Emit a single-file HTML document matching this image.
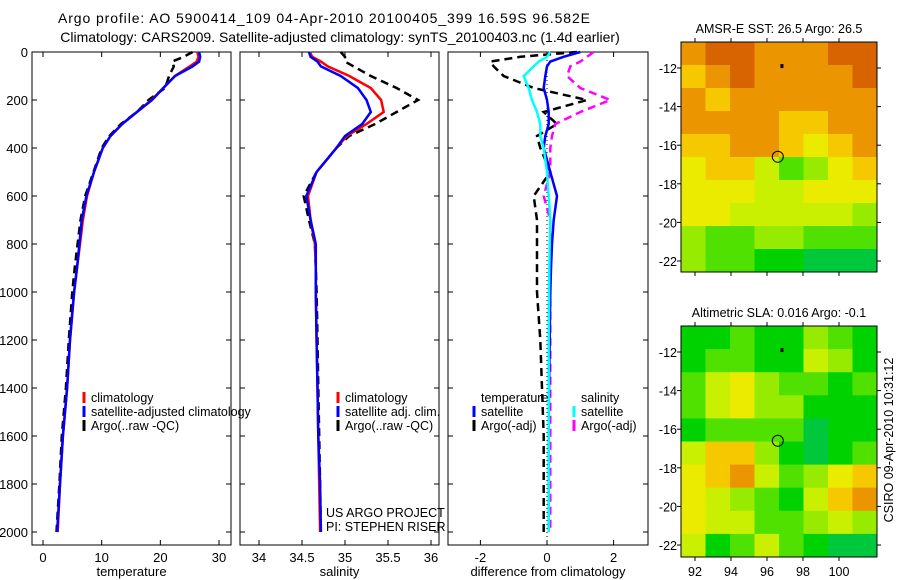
<!DOCTYPE html>
<html><head><meta charset="utf-8"><style>
body{margin:0;background:#fff}
svg{display:block;font-family:"Liberation Sans",sans-serif}
</style></head><body>
<svg id="c" width="900" height="580" xmlns="http://www.w3.org/2000/svg">
<text x="58" y="23" font-size="14" textLength="532" lengthAdjust="spacing">Argo profile: AO 5900414_109 04-Apr-2010 20100405_399 16.59S 96.582E</text>
<text x="340" y="42" font-size="14" text-anchor="middle">Climatology: CARS2009. Satellite-adjusted climatology: synTS_20100403.nc (1.4d earlier)</text>
<g id="g"></g>
</svg>
<script>
const depths=[0,20,40,60,100,150,200,250,300,350,400,500,600,700,800,900,1000,1200,1400,1600,1800,2000];
const tempClim=[26.3,26.5,26.2,25,22.5,20.5,18.5,16,13.5,11.5,10.2,8.7,7.5,6.8,6.3,5.8,5.3,4.6,4.1,3.4,2.9,2.5];
const tempSat=[26.6,26.8,26.6,25.5,22.5,20.5,18.6,16,13.5,11.5,10.2,8.7,7.4,6.6,6.2,5.8,5.3,4.6,4.1,3.4,2.9,2.4];
const tempArgo=[25.5,24,22,22.3,21.5,20.8,18,16,13.3,11.3,10,8.6,7.2,6.4,5.9,5.4,5.0,4.4,3.9,3.2,2.8,2.3];
const salClim=[34.59,34.62,34.72,34.8,35.05,35.3,35.42,35.45,35.25,35.02,34.9,34.67,34.57,34.6,34.65,34.66,34.66,34.67,34.68,34.69,34.7,34.71];
const salSat=[34.58,34.6,34.68,34.72,34.95,35.15,35.25,35.3,35.2,35.0,34.9,34.67,34.55,34.6,34.66,34.66,34.66,34.67,34.68,34.69,34.71,34.72];
const salArgo=[34.95,35.0,35.0,35.1,35.3,35.6,35.85,35.6,35.35,35.05,34.9,34.67,34.52,34.58,34.65,34.66,34.67,34.68,34.69,34.7,34.71,34.72];
const dTempSat=[1.0,0.5,0.1,0,-0.05,-0.1,0,0.05,0.05,-0.05,-0.1,0.1,0.3,0.2,0.15,0.12,0.1,0.08,0.06,0.05,0.05,0.05];
const dTempArgo=[0.9,-0.8,-1.7,-1.6,-1.3,-0.4,1.2,-0.1,0.3,-0.3,-0.2,0.1,-0.4,-0.3,-0.3,-0.3,-0.3,-0.2,-0.15,-0.1,-0.1,-0.1];
const dSalSat=[0.1,0,-0.25,-0.4,-0.7,-0.55,-0.45,-0.3,-0.2,-0.2,-0.1,0,0.05,0.1,0.08,0.07,0.06,0.05,0.05,0.05,0.05,0.05];
const dSalArgo=[1.4,1.2,1.0,0.7,0.6,1.0,1.9,1.0,0.25,0.15,0.1,0.1,-0.1,0.1,0.1,0.1,0.1,0.1,0.1,0.1,0.1,0.1];
const depthTicks=[0,200,400,600,800,1000,1200,1400,1600,1800,2000];
const tempTicks=[0,10,20,30];
const salTicks=[34,34.5,35,35.5,36];
const salTickLabels=["34","34.5","35","35.5","36"];
const diffTicks=[-2,0,2];
const latTicks=[12,14,16,18,20,22];
const lonTicks=[92,94,96,98,100];
const sstGrid=[
[8,9,9,8,8,8,9,9],[7,8,9,8,8,8,8,9],[8,7,8,8,8,8,8,8],[8,8,8,8,7,7,8,8],[7,7,8,8,7,6,7,8],
[6,7,7,5,3,4,6,7],[6,6,6,5,5,6,6,6],[6,6,5,5,5,5,5,4],[4,3,3,4,4,3,3,3],[4,3,3,2,2,1,1,1]];
const slaGrid=[
[2,2,3,2,2,4,3,2],[2,3,3,2,2,5,4,2],[3,5,6,4,3,3,2,3],[3,5,6,4,4,2,2,2],[2,3,3,3,3,1,2,2],
[5,7,7,4,2,1,2,3],[6,7,8,5,3,4,6,7],[6,5,4,3,2,5,7,8],[6,5,5,3,3,4,5,4],[5,2,3,5,3,2,1,1]];
const floatPos=[96.6,16.6];
const trackPos=[96.8,11.9];

const NS="http://www.w3.org/2000/svg";
const G=document.getElementById('g');
function mk(t,a,p){const e=document.createElementNS(NS,t);for(const k in a)e.setAttribute(k,a[k]);(p||G).appendChild(e);return e;}
const yD=d=>52+d*0.24;
const xT=v=>43+v*5.867, xS=v=>259+(v-34)*86, xDf=v=>547+v*33.3;

function panel(x0,x1,name,xf,ticks,labels,xlabel,showY){
  const f=mk('rect',{x:x0,y:52,width:x1-x0,height:493,fill:'none',stroke:'#000','stroke-width':1});
  
  
  depthTicks.forEach(d=>{
    mk('line',{x1:x0,x2:x0+5,y1:yD(d),y2:yD(d),stroke:'#000'});
    mk('line',{x1:x1-5,x2:x1,y1:yD(d),y2:yD(d),stroke:'#000'});
    if(showY){const t=mk('text',{x:x0-4,y:yD(d)+5,'font-size':13,'text-anchor':'end'});t.textContent=d;
      
      }
  });
  ticks.forEach((v,i)=>{
    mk('line',{x1:xf(v),x2:xf(v),y1:545,y2:540,stroke:'#000'});
    mk('line',{x1:xf(v),x2:xf(v),y1:52,y2:57,stroke:'#000'});
    const t=mk('text',{x:xf(v),y:562,'font-size':13,'text-anchor':'middle'});t.textContent=labels[i];
    
    
  });
  const l=mk('text',{x:(x0+x1)/2,y:576,'font-size':13,'text-anchor':'middle'});l.textContent=xlabel;
  
  
}
function line(vals,xf,color,dash,name){
  const pts=vals.map((v,i)=>xf(v).toFixed(1)+','+yD(depths[i]).toFixed(1)).join(' ');
  const p=mk('polyline',{points:pts,fill:'none',stroke:color,'stroke-width':2.5});
  if(dash)p.setAttribute('stroke-dasharray','8,5');
  
  
}
function leg(x,y,color,label,name){
  mk('line',{x1:x,x2:x,y1:y-10,y2:y+1,stroke:color,'stroke-width':3});
  const t=mk('text',{x:x+7,y:y,'font-size':12.5});t.textContent=label;
  
  
}
panel(32,231,'temperature-panel',xT,tempTicks,tempTicks.map(String),'temperature',true);
panel(240,439,'salinity-panel',xS,salTicks,salTickLabels,'salinity',false);
panel(448,648,'difference-panel',xDf,diffTicks,diffTicks.map(String),'difference from climatology',false);
mk('line',{x1:547,x2:547,y1:52,y2:545,stroke:'#000','stroke-dasharray':'1,3'});
line(tempArgo,xT,'#000',true,'temp-argo-line');
line(tempClim,xT,'#f00',false,'temp-climatology-line');
line(tempSat,xT,'#00f',false,'temp-satellite-line');
line(salArgo,xS,'#000',true,'sal-argo-line');
line(salClim,xS,'#f00',false,'sal-climatology-line');
line(salSat,xS,'#00f',false,'sal-satellite-line');
line(dTempArgo,xDf,'#000',true,'diff-temp-argo-line');
line(dSalArgo,xDf,'#f0f',true,'diff-sal-argo-line');
line(dTempSat,xDf,'#00f',false,'diff-temp-satellite-line');
line(dSalSat,xDf,'#0ff',false,'diff-sal-satellite-line');
leg(84,402,'#f00','climatology','legend-climatology');
leg(84,416,'#00f','satellite-adjusted climatology','legend-satellite-adjusted');
leg(84,430,'#000','Argo(..raw -QC)','legend-argo-raw');
leg(338,402,'#f00','climatology','legend-sal-climatology');
leg(338,416,'#00f','satellite adj. clim.','legend-sal-satellite');
leg(338,430,'#000','Argo(..raw -QC)','legend-sal-argo');
{const t=mk('text',{x:481,y:402,'font-size':12.5});t.textContent='temperature';


const s=mk('text',{x:581,y:402,'font-size':12.5});s.textContent='salinity';

}
leg(474,416,'#00f','satellite','legend-temp-satellite');
leg(474,430,'#000','Argo(-adj)','legend-temp-argo');
leg(574,416,'#0ff','satellite','legend-sal-satellite-diff');
leg(574,430,'#f0f','Argo(-adj)','legend-sal-argo-diff');
{const a=mk('text',{x:326,y:517,'font-size':12.5});a.textContent='US ARGO PROJECT';


const b=mk('text',{x:326,y:531,'font-size':12.5});b.textContent='PI: STEPHEN RISER';

}

const cmap=[[0,200,160],[0,200,60],[0,210,0],[80,225,0],[150,235,0],[200,240,0],[235,235,0],[245,200,0],[235,150,0],[215,100,0],[190,50,0]];
const col=v=>{const c=cmap[Math.max(0,Math.min(10,Math.round(v)))];return `rgb(${c[0]},${c[1]},${c[2]})`;};
const xL=v=>695+(v-92)*18;
function map(top,bot,grid,name,title,latY0,showLon){
  const x0=681,x1=877,rows=grid.length,cols=grid[0].length,cw=(x1-x0)/cols,ch=(bot-top)/rows;
  const yLat=v=>latY0+(v-12)*19.3;
  grid.forEach((r,i)=>r.forEach((v,j)=>{
    const c=mk('rect',{x:x0+j*cw,y:top+i*ch,width:cw+0.5,height:ch+0.5,fill:col(v)});
    
    
  }));
  const f=mk('rect',{x:x0,y:top,width:x1-x0,height:bot-top,fill:'none',stroke:'#000'});
  
  
  latTicks.forEach(v=>{
    mk('line',{x1:x0,x2:x0-4,y1:yLat(v),y2:yLat(v),stroke:'#000'});
    mk('line',{x1:x1,x2:x1+4,y1:yLat(v),y2:yLat(v),stroke:'#000'});
    const t=mk('text',{x:x0-4,y:yLat(v)+5,'font-size':12.5,'text-anchor':'end'});t.textContent='-'+v;
    
    
  });
  lonTicks.forEach(v=>{
    mk('line',{x1:xL(v),x2:xL(v),y1:bot,y2:bot+4,stroke:'#000'});
    mk('line',{x1:xL(v),x2:xL(v),y1:top,y2:top-4,stroke:'#000'});
    if(showLon){const t=mk('text',{x:xL(v),y:bot+19,'font-size':12.5,'text-anchor':'middle'});t.textContent=v;
      
      }
  });
  const tt=mk('text',{x:779,y:top-9,'font-size':12.5,'text-anchor':'middle'});tt.textContent=title;
  
  
  const m=mk('circle',{cx:xL(floatPos[0]),cy:yLat(floatPos[1]),r:5.5,fill:'none',stroke:'#000'});
  
  
  const tr=mk('rect',{x:xL(trackPos[0])-1,y:yLat(trackPos[1])-2,width:3,height:4,fill:'#000'});
  
  
}
map(42,272,sstGrid,'sst-map','AMSR-E SST: 26.5 Argo: 26.5',68,false);
map(326,557,slaGrid,'sla-map','Altimetric SLA: 0.016 Argo: -0.1',352,true);
{const t=mk('text',{x:0,y:0,'font-size':12.5,'text-anchor':'middle',transform:'translate(893,440) rotate(-90)'});
t.textContent='CSIRO 09-Apr-2010 10:31:12';

}
</script>
</body></html>
